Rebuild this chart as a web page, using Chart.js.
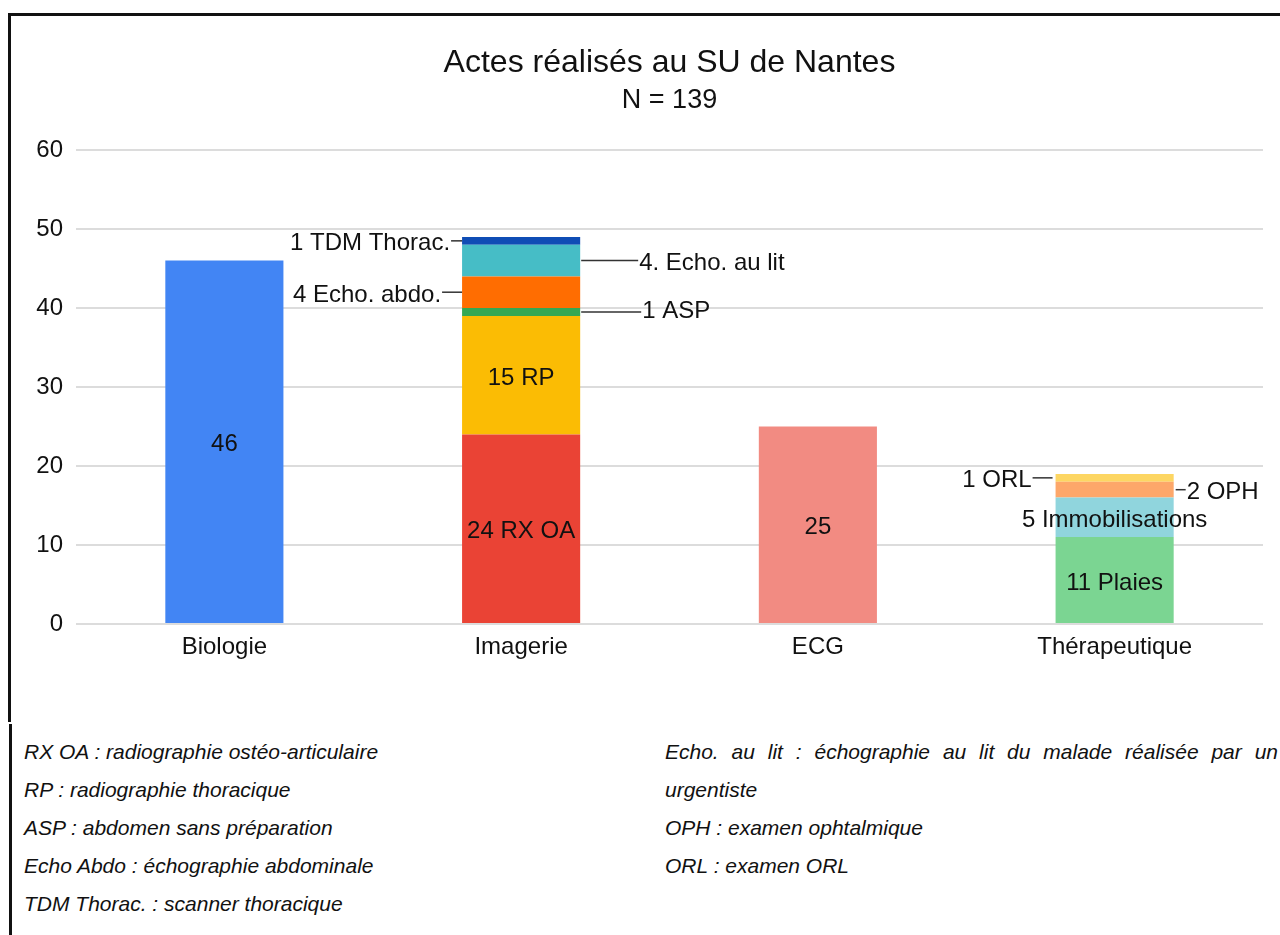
<!DOCTYPE html>
<html lang="fr">
<head>
<meta charset="utf-8">
<title>Actes réalisés au SU de Nantes</title>
<script src="https://cdn.jsdelivr.net/npm/chart.js@4.4.1/dist/chart.umd.min.js"></script>
<style>
  html, body { margin: 0; padding: 0; background: #fff; }
  body { width: 1280px; height: 935px; position: relative; overflow: hidden; font-family: "Liberation Sans", Arial, sans-serif; }
  #chart { position: absolute; left: 0; top: 0; }
  .rule { position: absolute; background: #111; }
  .notes { position: absolute; top: 733px; font-style: italic; font-size: 21px; line-height: 38px; color: #111; }
  .notes div { white-space: nowrap; }
  .notes .just { white-space: normal; text-align: justify; text-align-last: justify; }
</style>
</head>
<body>
<canvas id="chart" width="1280" height="720"></canvas>
<div class="rule" style="left:8px; top:13px; width:1272px; height:3px;"></div>
<div class="rule" style="left:8px; top:13px; width:2.5px; height:709px;"></div>
<div class="rule" style="left:9px; top:724px; width:2.5px; height:211px;"></div>

<div class="notes" style="left:24px;">
  <div>RX OA : radiographie ostéo-articulaire</div>
  <div>RP : radiographie thoracique</div>
  <div>ASP : abdomen sans préparation</div>
  <div>Echo Abdo : échographie abdominale</div>
  <div>TDM Thorac. : scanner thoracique</div>
</div>
<div class="notes" style="left:665px; width:613px;">
  <div class="just">Echo. au lit : échographie au lit du malade réalisée par un</div>
  <div>urgentiste</div>
  <div>OPH : examen ophtalmique</div>
  <div>ORL : examen ORL</div>
</div>

<script>
const categories = ["Biologie", "Imagerie", "ECG", "Thérapeutique"];

// one array per stacked segment, one slot per category
const biologie        = [46, null, null, null];
const rxOA            = [null, 24, null, null];
const rp              = [null, 15, null, null];
const asp             = [null, 1, null, null];
const echoAbdo        = [null, 4, null, null];
const echoLit         = [null, 4, null, null];
const tdmThorac       = [null, 1, null, null];
const ecg             = [null, null, 25, null];
const plaies          = [null, null, null, 11];
const immobilisations = [null, null, null, 5];
const oph             = [null, null, null, 2];
const orl             = [null, null, null, 1];

const segmentNames = ["Biologie", "RX OA", "RP", "ASP", "Echo. abdo.", "Echo. au lit",
  "TDM Thorac.", "ECG", "Plaies", "Immobilisations", "OPH", "ORL"];
const segmentValues = [biologie, rxOA, rp, asp, echoAbdo, echoLit, tdmThorac, ecg,
  plaies, immobilisations, oph, orl];
const segmentLabels = ["46", "24 RX OA", "15 RP", "1 ASP", "4 Echo. abdo.", "4. Echo. au lit",
  "1 TDM Thorac.", "25", "11 Plaies", "5 Immobilisations", "2 OPH", "1 ORL"];

const yMin = 0, yMax = 60, yStep = 10;
const title = "Actes réalisés au SU de Nantes";
const subtitle = "N = 139";

// styles
const segmentColors = ["#4285F4", "#EA4335", "#FBBC04", "#34A853", "#FF6D01", "#46BDC6",
  "#0F4DB5", "#F28B82", "#7BD592", "#90D5DD", "#FDA76A", "#FDD663"];
// where each segment label goes: inside, or outside with a leader line
const labelPlacement = [
  { side: "in" }, { side: "in" }, { side: "in" },
  { side: "right", gap: 1, line: 60, dy: -1 }, // ASP
  { side: "left", gap: 0, line: 20 },          // Echo abdo
  { side: "right", gap: 1, line: 57 },         // Echo au lit
  { side: "left", gap: 0, line: 11 },          // TDM
  { side: "in" }, { side: "in" }, { side: "in" },
  { side: "right", gap: 2, line: 10 },         // OPH
  { side: "left", gap: 3, line: 20 },          // ORL
];
const FONT = '"Liberation Sans", Arial, sans-serif';
const TEXT = "#111";

const segmentLabelPlugin = {
  id: "segmentLabels",
  afterDatasetsDraw(chart) {
    const ctx = chart.ctx;
    ctx.save();
    ctx.font = "24px " + FONT;
    ctx.fillStyle = TEXT;
    ctx.strokeStyle = "#333";
    ctx.lineWidth = 1.5;
    ctx.textBaseline = "middle";
    chart.data.datasets.forEach((ds, i) => {
      const meta = chart.getDatasetMeta(i);
      const place = labelPlacement[i];
      const dy = place.dy !== undefined ? place.dy : 3;
      meta.data.forEach((bar, j) => {
        if (ds.data[j] == null) return;
        const p = bar.getProps(["x", "y", "base", "width"], true);
        const cy = (p.y + p.base) / 2;
        const text = segmentLabels[i];
        if (place.side === "in") {
          ctx.textAlign = "center";
          ctx.fillText(text, p.x, cy + dy);
          return;
        }
        const dir = place.side === "left" ? -1 : 1;
        const x0 = p.x + dir * (p.width / 2 + place.gap);
        const x1 = x0 + dir * place.line;
        ctx.beginPath();
        ctx.moveTo(x0, cy);
        ctx.lineTo(x1, cy);
        ctx.stroke();
        ctx.textAlign = dir < 0 ? "right" : "left";
        ctx.fillText(text, x1 + dir * 1, cy + dy);
      });
    });
    ctx.restore();
  },
};

const titlePlugin = {
  id: "centeredTitle",
  afterDraw(chart) {
    const ctx = chart.ctx;
    const a = chart.chartArea;
    const cx = (a.left + a.right) / 2;
    ctx.save();
    ctx.fillStyle = TEXT;
    ctx.textAlign = "center";
    ctx.textBaseline = "alphabetic";
    ctx.font = "32px " + FONT;
    ctx.fillText(title, cx, 72);
    ctx.font = "27px " + FONT;
    ctx.fillText(subtitle, cx, 108);
    ctx.restore();
  },
};

new Chart(document.getElementById("chart").getContext("2d"), {
  type: "bar",
  data: {
    labels: categories,
    datasets: segmentValues.map((vals, i) => ({
      label: segmentNames[i],
      data: vals,
      backgroundColor: segmentColors[i],
      borderWidth: 0,
      barPercentage: 0.398,
      categoryPercentage: 1,
      stack: "all",
    })),
  },
  options: {
    responsive: false,
    animation: false,
    devicePixelRatio: 1,
    layout: { padding: { top: 150, right: 17, bottom: 56, left: 0 } },
    plugins: {
      legend: { display: false },
      title: { display: false },
      tooltip: { enabled: false },
    },
    scales: {
      x: {
        stacked: true,
        grid: { display: false, drawTicks: false },
        border: { display: false },
        ticks: { color: TEXT, font: { size: 24, family: FONT }, padding: 9, maxRotation: 0 },
        afterFit: (s) => { s.height = 40; },
      },
      y: {
        stacked: true,
        min: yMin,
        max: yMax,
        grid: { color: "#dcdcdc", lineWidth: 2, drawTicks: false },
        border: { display: false },
        ticks: { stepSize: yStep, color: TEXT, font: { size: 24, family: FONT }, padding: 13 },
        afterFit: (s) => { s.width = 76; },
      },
    },
  },
  plugins: [segmentLabelPlugin, titlePlugin],
});
</script>
</body>
</html>
